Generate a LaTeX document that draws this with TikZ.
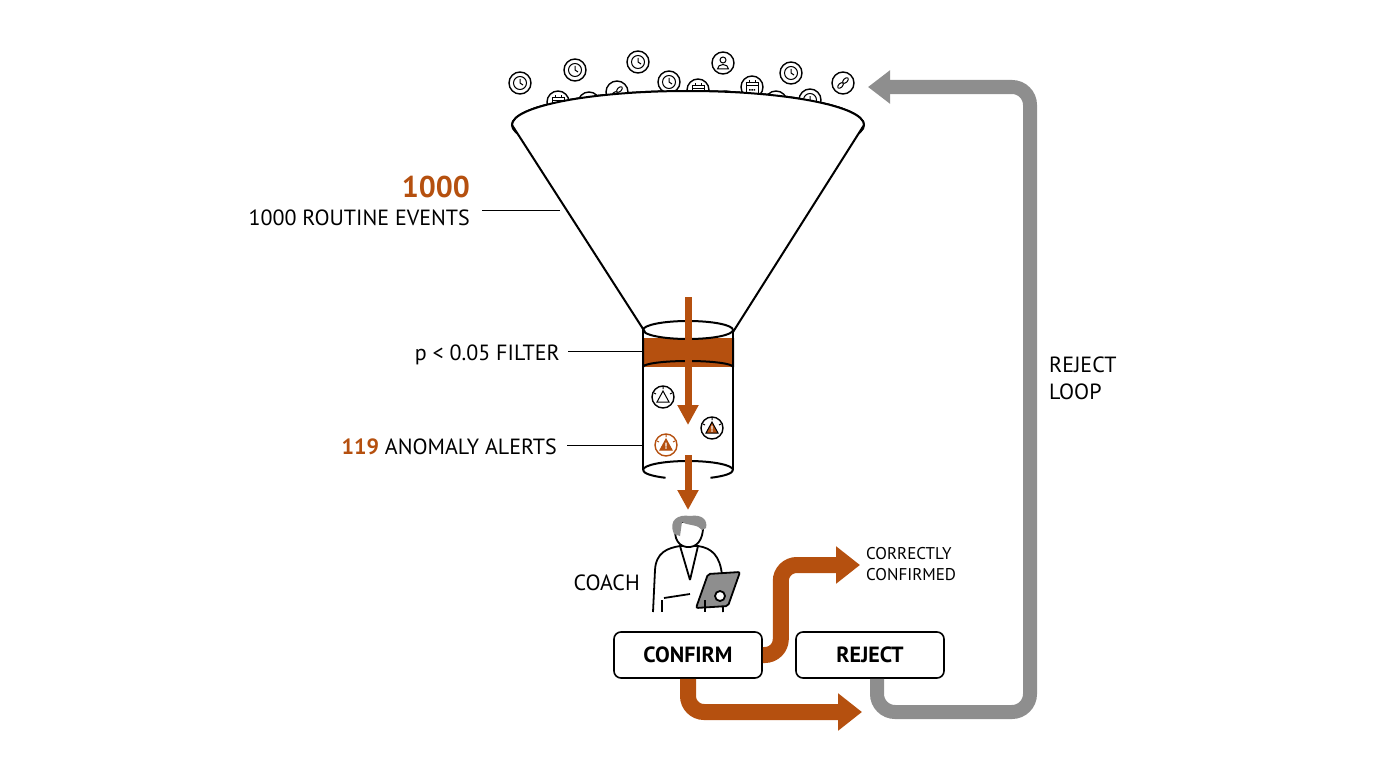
\documentclass[tikz,border=0pt]{standalone}
\usepackage{fontspec}
\setmainfont{PT Sans}
\usetikzlibrary{arrows.meta,positioning}
\definecolor{rust}{HTML}{B5500F}
\definecolor{loopgray}{HTML}{8E8E8E}
\newcommand{\evicon}[3]{%
  \begin{scope}[shift={(#1,#2)}]
    \draw[icon ring] (0,0) circle (11);
    \ifcase#3
      \draw[icon line] (0,0) circle (6.5); \draw[icon line] (0,-4) -- (0,0) -- (3,2);
    \or
      \draw[icon line] (0,-3) circle (3); \draw[icon line] (-5.5,6) arc (180:360:5.5 and 4.5) -- cycle;
    \or
      \draw[icon line] (-6,-5) rectangle (6,6); \draw[icon line] (-6,-2) -- (6,-2);
      \draw[icon line] (-3,-7) -- (-3,-4) (3,-7) -- (3,-4);
      \fill (-3,2) rectangle (-1.5,3.5) (-0.75,2) rectangle (0.75,3.5) (1.5,2) rectangle (3,3.5);
    \or
      \draw[icon line,rotate=45] (-3.5,0) ellipse (3.5 and 2) (3.5,0) ellipse (3.5 and 2);
    \fi
  \end{scope}}
\newcommand{\alerticon}[4]{%
  \begin{scope}[shift={(#1,#2)}]
    \draw[icon ring,draw=#3] (0,0) circle (11);
    \draw[icon line,draw=#3,fill=#4] (-6,5) -- (0,-6) -- (6,5) -- cycle;
    \draw[icon line,draw=#3] (-9,-4) -- (-7,-3) (9,-4) -- (7,-3) (0,-10) -- (0,-8);
    \fill[white] (-0.6,-2.5) rectangle (0.6,1.5) (0,3) circle (0.8);
  \end{scope}}
\begin{document}
\begin{tikzpicture}[x=1pt,y=-1pt,
   icon ring/.style={draw=black,fill=white,line width=1.4pt},
   icon line/.style={line width=1pt},
   label/.style={font=\fontsize{22}{24}\selectfont,inner sep=0pt},
   leader/.style={line width=1pt},
   stage/.style={draw,line width=1.6pt,rounded corners=7pt,minimum width=148pt,minimum height=46pt,font=\fontsize{22}{24}\selectfont\bfseries},
   flow/.style={rust,line width=16pt,rounded corners=16pt,-{Triangle[width=36pt,length=24pt]}},
   back/.style={loopgray,line width=14pt,rounded corners=18pt,-{Triangle[width=32pt,length=22pt]}}]
\useasboundingbox (0,0) rectangle (1376,768);
% funnel rim and the events in it
\draw[line width=2pt] (688,125) ellipse (176 and 34);
\foreach \x/\y/\t in {520/83/0,575/70/0,638/62/0,723/63/1,791/73/0,843/83/3,
   558/102/2,589/103/0,617/92/3,669/82/0,698/90/2,752/87/2,810/100/0,776/102/1,
   647/103/1,678/113/1,726/102/3,539/127/1,578/136/0,610/127/0,652/135/0,683/142/2,
   709/129/2,751/127/3,779/136/0,807/136/0,837/125/0,626/153/2,733/152/3}
  \evicon{\x}{\y}{\t};
\fill[white] (512,125) arc (180:360:176 and 34) -- (735,330) -- (643,330) -- cycle;
\draw[line width=2pt] (512,125) arc (180:360:176 and 34);
\draw[line width=2pt] (512,125) -- (645,332) (864,125) -- (733,332);
% filter cylinder
\fill[rust] (643,338) rectangle (733,367);
\draw[line width=2pt] (688,330) ellipse (45 and 9);
\draw[line width=2pt] (643,330) -- (643,470) (733,330) -- (733,470);
\draw[line width=2pt] (643,338) -- (643,367) (733,338) -- (733,367) (643,367) arc (180:360:45 and 6);
\draw[line width=2pt] (643,470) arc (180:360:45 and 9) (643,470) arc (180:120:45 and 9) (733,470) arc (0:60:45 and 9);
\alerticon{663}{397}{black}{white}
\alerticon{712}{428}{black}{rust}
\alerticon{666}{445}{rust}{rust}
\coordinate (pin) at (688,297);
\coordinate (pout) at (688,425);
\draw[rust,line width=7pt,-{Triangle[width=20pt,length=20pt]}] (pin) -- (pout);
\draw[rust,line width=7pt,-{Triangle[width=20pt,length=20pt]}] (688,455) -- (688,510);
% labels with leaders
\node[label,anchor=base east,text=rust,font=\fontsize{30}{32}\selectfont\bfseries] (count) at (470,197) {1000};
\node[label,anchor=base east] (events) at (470,225) {1000 ROUTINE EVENTS};
\coordinate (rimleft) at (560,210);
\draw[leader] (482,210) -- (rimleft);
\node[label,anchor=base east] (filter) at (560,360) {p < 0.05 FILTER};
\draw[leader] (568,351) -- (643,351);
\node[label,anchor=base east] (alerts) at (557,454) {\textcolor{rust}{\bfseries 119} ANOMALY ALERTS};
\draw[leader] (567,445) -- (643,445);
% coach
\begin{scope}[line width=1.8pt]
\draw[fill=white] (653,612) -- (655,570) .. controls (656,552) and (668,548) .. (680,546) -- (698,546) .. controls (712,548) and (720,556) .. (722,575) -- (723,612);
\draw (680,546) -- (690,580) (698,546) -- (690,580);
\draw[fill=white] (676,522) .. controls (672,540) and (680,548) .. (690,547) .. controls (700,546) and (704,535) .. (703,522) -- cycle;
\fill[loopgray] (674,534) .. controls (668,520) and (678,514) .. (690,516) .. controls (702,514) and (708,520) .. (706,528) -- (702,530) .. controls (698,524) and (688,526) .. (682,522) -- (680,536) -- cycle;
\draw[fill=loopgray,rounded corners=2pt] (708,574) -- (740,572) -- (728,606) -- (696,608) -- cycle;
\draw[fill=white] (664,598) -- (690,594) (720,596) circle (5);
\draw (662,600) -- (662,612) (705,600) -- (705,612);
\end{scope}
\node[label,anchor=base east] (coachlbl) at (640,590) {COACH};
% decisions
\node[stage] (confirm) at (688,655) {CONFIRM};
\node[stage] (reject) at (870,655) {REJECT};
\coordinate (okend) at (860,565);
\coordinate (missend) at (862,712);
\coordinate (loopend) at (868,87);
\draw[flow] (confirm.east) -- ++(18,0) |- (okend);
\draw[flow] (confirm.south) |- (missend);
\draw[back] (reject.south) ++(7,0) |- (1030,712) |- (loopend);
\node[anchor=west,align=left,inner sep=0pt,font=\fontsize{17}{21}\selectfont] (okay) at (866,564) {CORRECTLY\\CONFIRMED};
\node[anchor=west,align=left,inner sep=0pt,font=\fontsize{22}{27}\selectfont] (looplbl) at (1049,378) {REJECT\\LOOP};
\end{tikzpicture}
\end{document}
